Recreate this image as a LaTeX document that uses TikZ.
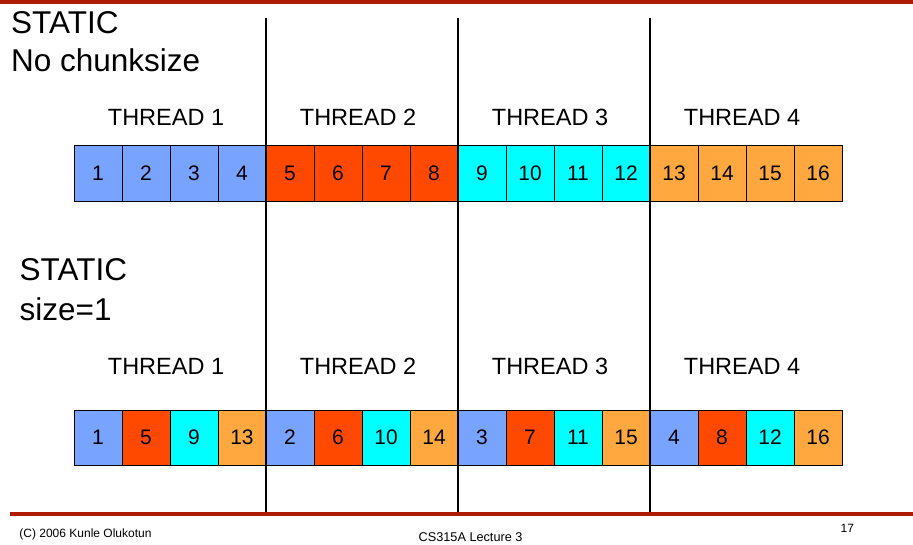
\documentclass[tikz,border=0pt]{standalone}
\usepackage{fontspec}
\setmainfont{Liberation Sans}
\definecolor{thr0}{RGB}{120,163,255}
\definecolor{thr1}{RGB}{255,72,0}
\definecolor{thr2}{RGB}{0,255,255}
\definecolor{thr3}{RGB}{255,168,64}
\definecolor{slidered}{RGB}{176,28,6}
\tikzset{
  cell/.style={draw=black, line width=0.9pt, minimum width=48pt, minimum height=56pt,
    inner sep=0pt, font=\fontsize{21}{24}\selectfont},
  heading/.style={anchor=base west, inner sep=0pt, font=\fontsize{31.5}{36}\selectfont},
  thread/.style={anchor=base, inner sep=0pt, font=\fontsize{23.5}{28}\selectfont},
  footer/.style={anchor=base west, inner sep=0pt, font=\fontsize{12}{14}\selectfont},
  sep/.style={line width=2.8pt, black}
}
\begin{document}
\begin{tikzpicture}[x=1pt,y=-1pt]
\useasboundingbox (0,0) rectangle (913,544);
% titles
\node[heading] (st1) at (11,33) {STATIC};
\node[heading] (nochunk) at (11,71.5) {No chunksize};
\node[heading] (st2) at (19.5,280.5) {STATIC};
\node[heading] (size1) at (19.5,320) {size=1};
% thread labels
\foreach \k in {1,...,4}{
  \node[thread] (th\k) at (166+192*\k-192,125) {THREAD \k};
  \node[thread] (tb\k) at (166+192*\k-192,374) {THREAD \k};
}
% no chunksize: blocks of four
\foreach \i in {1,...,16}{
  \pgfmathtruncatemacro{\t}{div(\i-1,4)}
  \node[cell, fill=thr\t] (a\i) at (50+48*\i,173.5) {\i};
}
% size=1: round robin
\foreach \i in {1,...,16}{
  \pgfmathtruncatemacro{\t}{mod(\i-1,4)}
  \pgfmathtruncatemacro{\n}{4*\t+div(\i-1,4)+1}
  \node[cell, minimum height=55pt, fill=thr\t] (b\i) at (50+48*\i,437.5) {\n};
}
% separators
\foreach \k in {1,2,3}{
  \coordinate (top\k) at (74+192*\k,18);
  \coordinate (bot\k) at (74+192*\k,512);
  \draw[sep] (top\k) -- (bot\k);
}
% slide frame
\fill[slidered] (0,0) rectangle (913,3.5);
\fill[slidered] (10,511.5) rectangle (913,516);
\node[footer] (copy) at (19.2,537) {(C) 2006 Kunle Olukotun};
\node[footer, font=\fontsize{12.7}{14}\selectfont] (lect) at (418.5,541.5) {CS315A Lecture 3};
\node[footer] (page) at (840.5,532) {17};
\end{tikzpicture}
\end{document}
